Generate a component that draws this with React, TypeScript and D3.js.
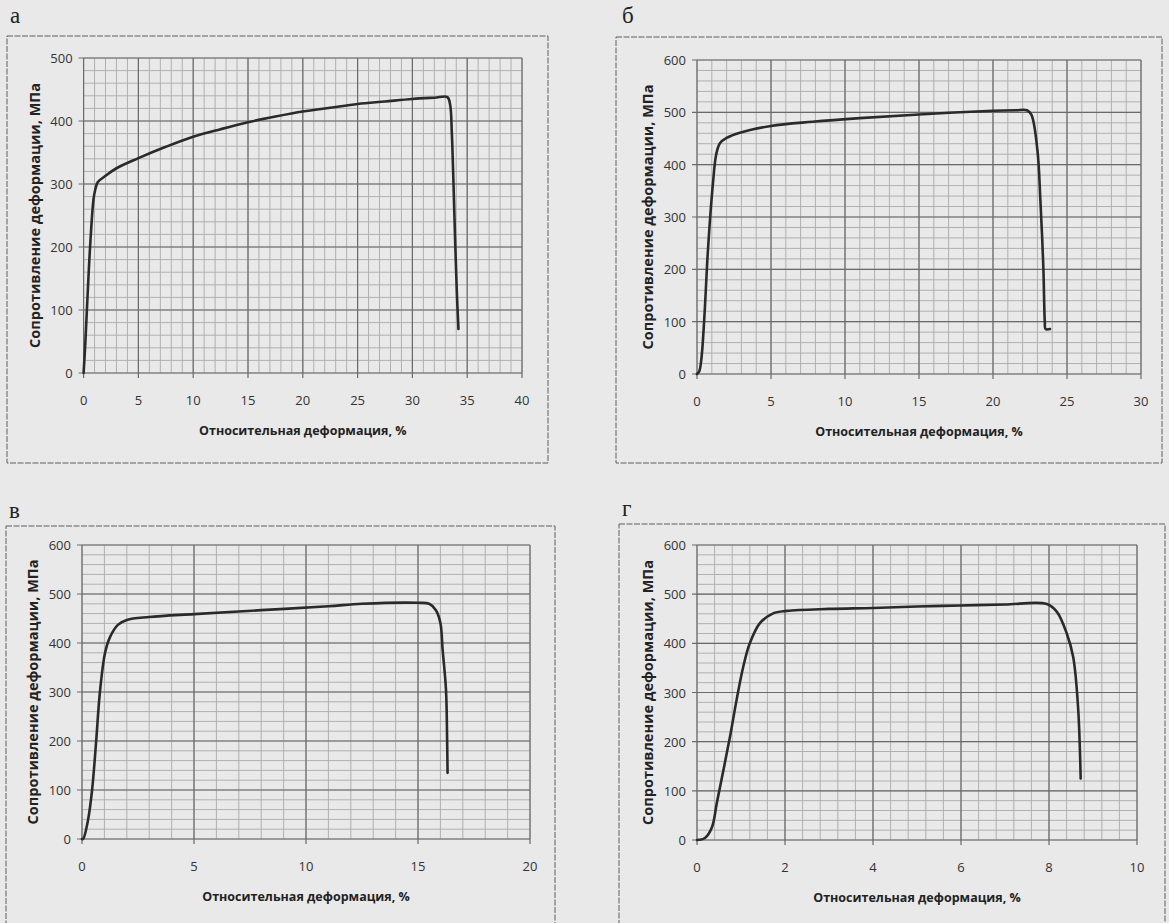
import React from 'react';
import * as d3 from 'd3';

// ---------- data ----------
const panelLetters = ['а', 'б', 'в', 'г'];
const xTitle = 'Относительная деформация, %';
const yTitle = 'Сопротивление деформации, МПа';

// а
const strainA = [0, 0.15, 0.3, 0.6, 0.9, 1.05, 1.3, 2, 3, 5, 7.5, 10, 12.5, 15, 17.5, 20, 22.5, 25, 27.5, 30, 32, 33.2, 33.45, 33.6, 33.75, 33.9, 34.05, 34.2];
const stressA = [0, 45, 100, 203, 275, 290, 303, 313, 325, 341, 359, 375, 387, 398, 407, 415, 421, 427, 431, 435, 437, 438, 425, 380, 300, 210, 130, 70];
const xTicksA = [0, 5, 10, 15, 20, 25, 30, 35, 40];
const yTicksA = [0, 100, 200, 300, 400, 500];

// б
const strainB = [0, 0.15, 0.3, 0.5, 0.74, 1.08, 1.3, 1.55, 2, 2.9, 5, 7.8, 11, 15, 20, 21.5, 22.3, 22.6, 23, 23.2, 23.4, 23.5, 23.55, 23.85];
const stressB = [0, 5, 30, 110, 237, 365, 420, 441, 451, 461, 474, 482, 489, 496, 503, 504, 504, 495, 428, 333, 205, 100, 86, 86];
const xTicksB = [0, 5, 10, 15, 20, 25, 30];
const yTicksB = [0, 100, 200, 300, 400, 500, 600];

// в
const strainV = [0, 0.05, 0.27, 0.45, 0.63, 0.8, 1.03, 1.25, 1.6, 2.0, 3.0, 5.0, 8.0, 11.0, 12.5, 15.0, 15.5, 15.8, 16.0, 16.1, 16.25, 16.3, 16.32];
const stressV = [0, 0, 39, 100, 198, 300, 380, 412, 437, 447, 453, 459, 467, 475, 480, 482, 480, 467, 441, 386, 304, 202, 135];
const xTicksV = [0, 5, 10, 15, 20];
const yTicksV = [0, 100, 200, 300, 400, 500, 600];

// г
const strainG = [0, 0.18, 0.34, 0.45, 0.6, 0.75, 0.9, 1.05, 1.2, 1.43, 1.73, 2.04, 3.0, 4.0, 5.0, 6.0, 7.0, 7.95, 8.18, 8.4, 8.55, 8.66, 8.72];
const stressG = [0, 4, 26, 75, 142, 210, 285, 352, 400, 441, 461, 466, 470, 472, 475, 477, 479, 480, 464, 421, 372, 271, 125];
const xTicksG = [0, 2, 4, 6, 8, 10];
const yTicksG = [0, 100, 200, 300, 400, 500, 600];

// ---------- layout ----------
const panels = [
  { letter: panelLetters[0], xs: strainA, ys: stressA, xt: xTicksA, yt: yTicksA, xMinor: 1, yMinor: 20,
    frame: [7, 36, 541, 427], px: [83.6, 522], py: [373, 58], lab: [10, 23] },
  { letter: panelLetters[1], xs: strainB, ys: stressB, xt: xTicksB, yt: yTicksB, xMinor: 1, yMinor: 20,
    frame: [616, 37, 546, 426], px: [697, 1141], py: [374, 60], lab: [622, 23] },
  { letter: panelLetters[2], xs: strainV, ys: stressV, xt: xTicksV, yt: yTicksV, xMinor: 1, yMinor: 20,
    frame: [6, 526, 549, 420], px: [82, 530], py: [839, 545], lab: [9, 518] },
  { letter: panelLetters[3], xs: strainG, ys: stressG, xt: xTicksG, yt: yTicksG, xMinor: 0.4, yMinor: 20,
    frame: [619, 524, 546, 420], px: [697, 1137], py: [840, 545], lab: [622, 516] },
];

const FONT = '"Open Sans", "DejaVu Sans", sans-serif';

function Panel({ p }: { p: any }) {
  const xMax = p.xt[p.xt.length - 1];
  const yMax = p.yt[p.yt.length - 1];
  const x = d3.scaleLinear().domain([0, xMax]).range(p.px);
  const y = d3.scaleLinear().domain([0, yMax]).range(p.py);
  const xMinorTicks = d3.range(0, xMax + 1e-9, p.xMinor);
  const yMinorTicks = d3.range(0, yMax + 1e-9, p.yMinor);
  const pts = p.xs.map((v: number, i: number) => [v, p.ys[i]]);
  const line = d3.line<number[]>().x(d => x(d[0])).y(d => y(d[1])).curve(d3.curveCatmullRom.alpha(0.5));
  const [fx, fy, fw, fh] = p.frame;
  const cx = (p.px[0] + p.px[1]) / 2;
  const cy = (p.py[0] + p.py[1]) / 2;
  return (
    <g>
      <rect x={fx} y={fy} width={fw} height={fh} fill="none" stroke="#5e5e5e" strokeWidth={1} strokeDasharray="6 1.5" />
      <text x={p.lab[0]} y={p.lab[1]} fontFamily='"Liberation Serif", "DejaVu Serif", serif' fontSize={23} fill="#222">{p.letter}</text>
      {/* minor grid */}
      {xMinorTicks.map((t: number, i: number) => (
        <line key={'xm' + i} x1={x(t)} x2={x(t)} y1={y(0)} y2={y(yMax)} stroke="#b0b0b0" strokeWidth={1} />
      ))}
      {yMinorTicks.map((t: number, i: number) => (
        <line key={'ym' + i} y1={y(t)} y2={y(t)} x1={x(0)} x2={x(xMax)} stroke="#b0b0b0" strokeWidth={1} />
      ))}
      {/* major grid */}
      {p.xt.map((t: number) => (
        <line key={'xM' + t} x1={x(t)} x2={x(t)} y1={y(0) + 5} y2={y(yMax)} stroke="#6a6a6a" strokeWidth={1.2} />
      ))}
      {p.yt.map((t: number) => (
        <line key={'yM' + t} y1={y(t)} y2={y(t)} x1={x(0) - 5} x2={x(xMax)} stroke="#6a6a6a" strokeWidth={1.2} />
      ))}
      {/* tick labels */}
      {p.xt.map((t: number) => (
        <text key={'xl' + t} x={x(t)} y={y(0) + 32} textAnchor="middle" fontFamily={FONT} fontSize={13} fill="#333">{t}</text>
      ))}
      {p.yt.map((t: number) => (
        <text key={'yl' + t} x={x(0) - 11} y={y(t) + 5} textAnchor="end" fontFamily={FONT} fontSize={13} fill="#333">{t}</text>
      ))}
      <text x={cx} y={y(0) + 62} textAnchor="middle" fontFamily={FONT} fontSize={12.5} fontWeight="bold" fill="#222">{xTitle}</text>
      <text transform={`translate(${x(0) - 44},${cy}) rotate(-90)`} textAnchor="middle" fontFamily={FONT} fontSize={14.5} fontWeight="bold" fill="#222">{yTitle}</text>
      <path d={line(pts) || ''} fill="none" stroke="#2a2a2a" strokeWidth={2.6} strokeLinejoin="round" strokeLinecap="round" />
    </g>
  );
}

export default function App() {
  return (
    <svg width={1169} height={923} style={{ position: 'absolute', left: 0, top: 0 }}>
      <rect x={0} y={0} width={1169} height={923} fill="#e9e9e9" />
      {panels.map((p, i) => <Panel key={i} p={p} />)}
    </svg>
  );
}
